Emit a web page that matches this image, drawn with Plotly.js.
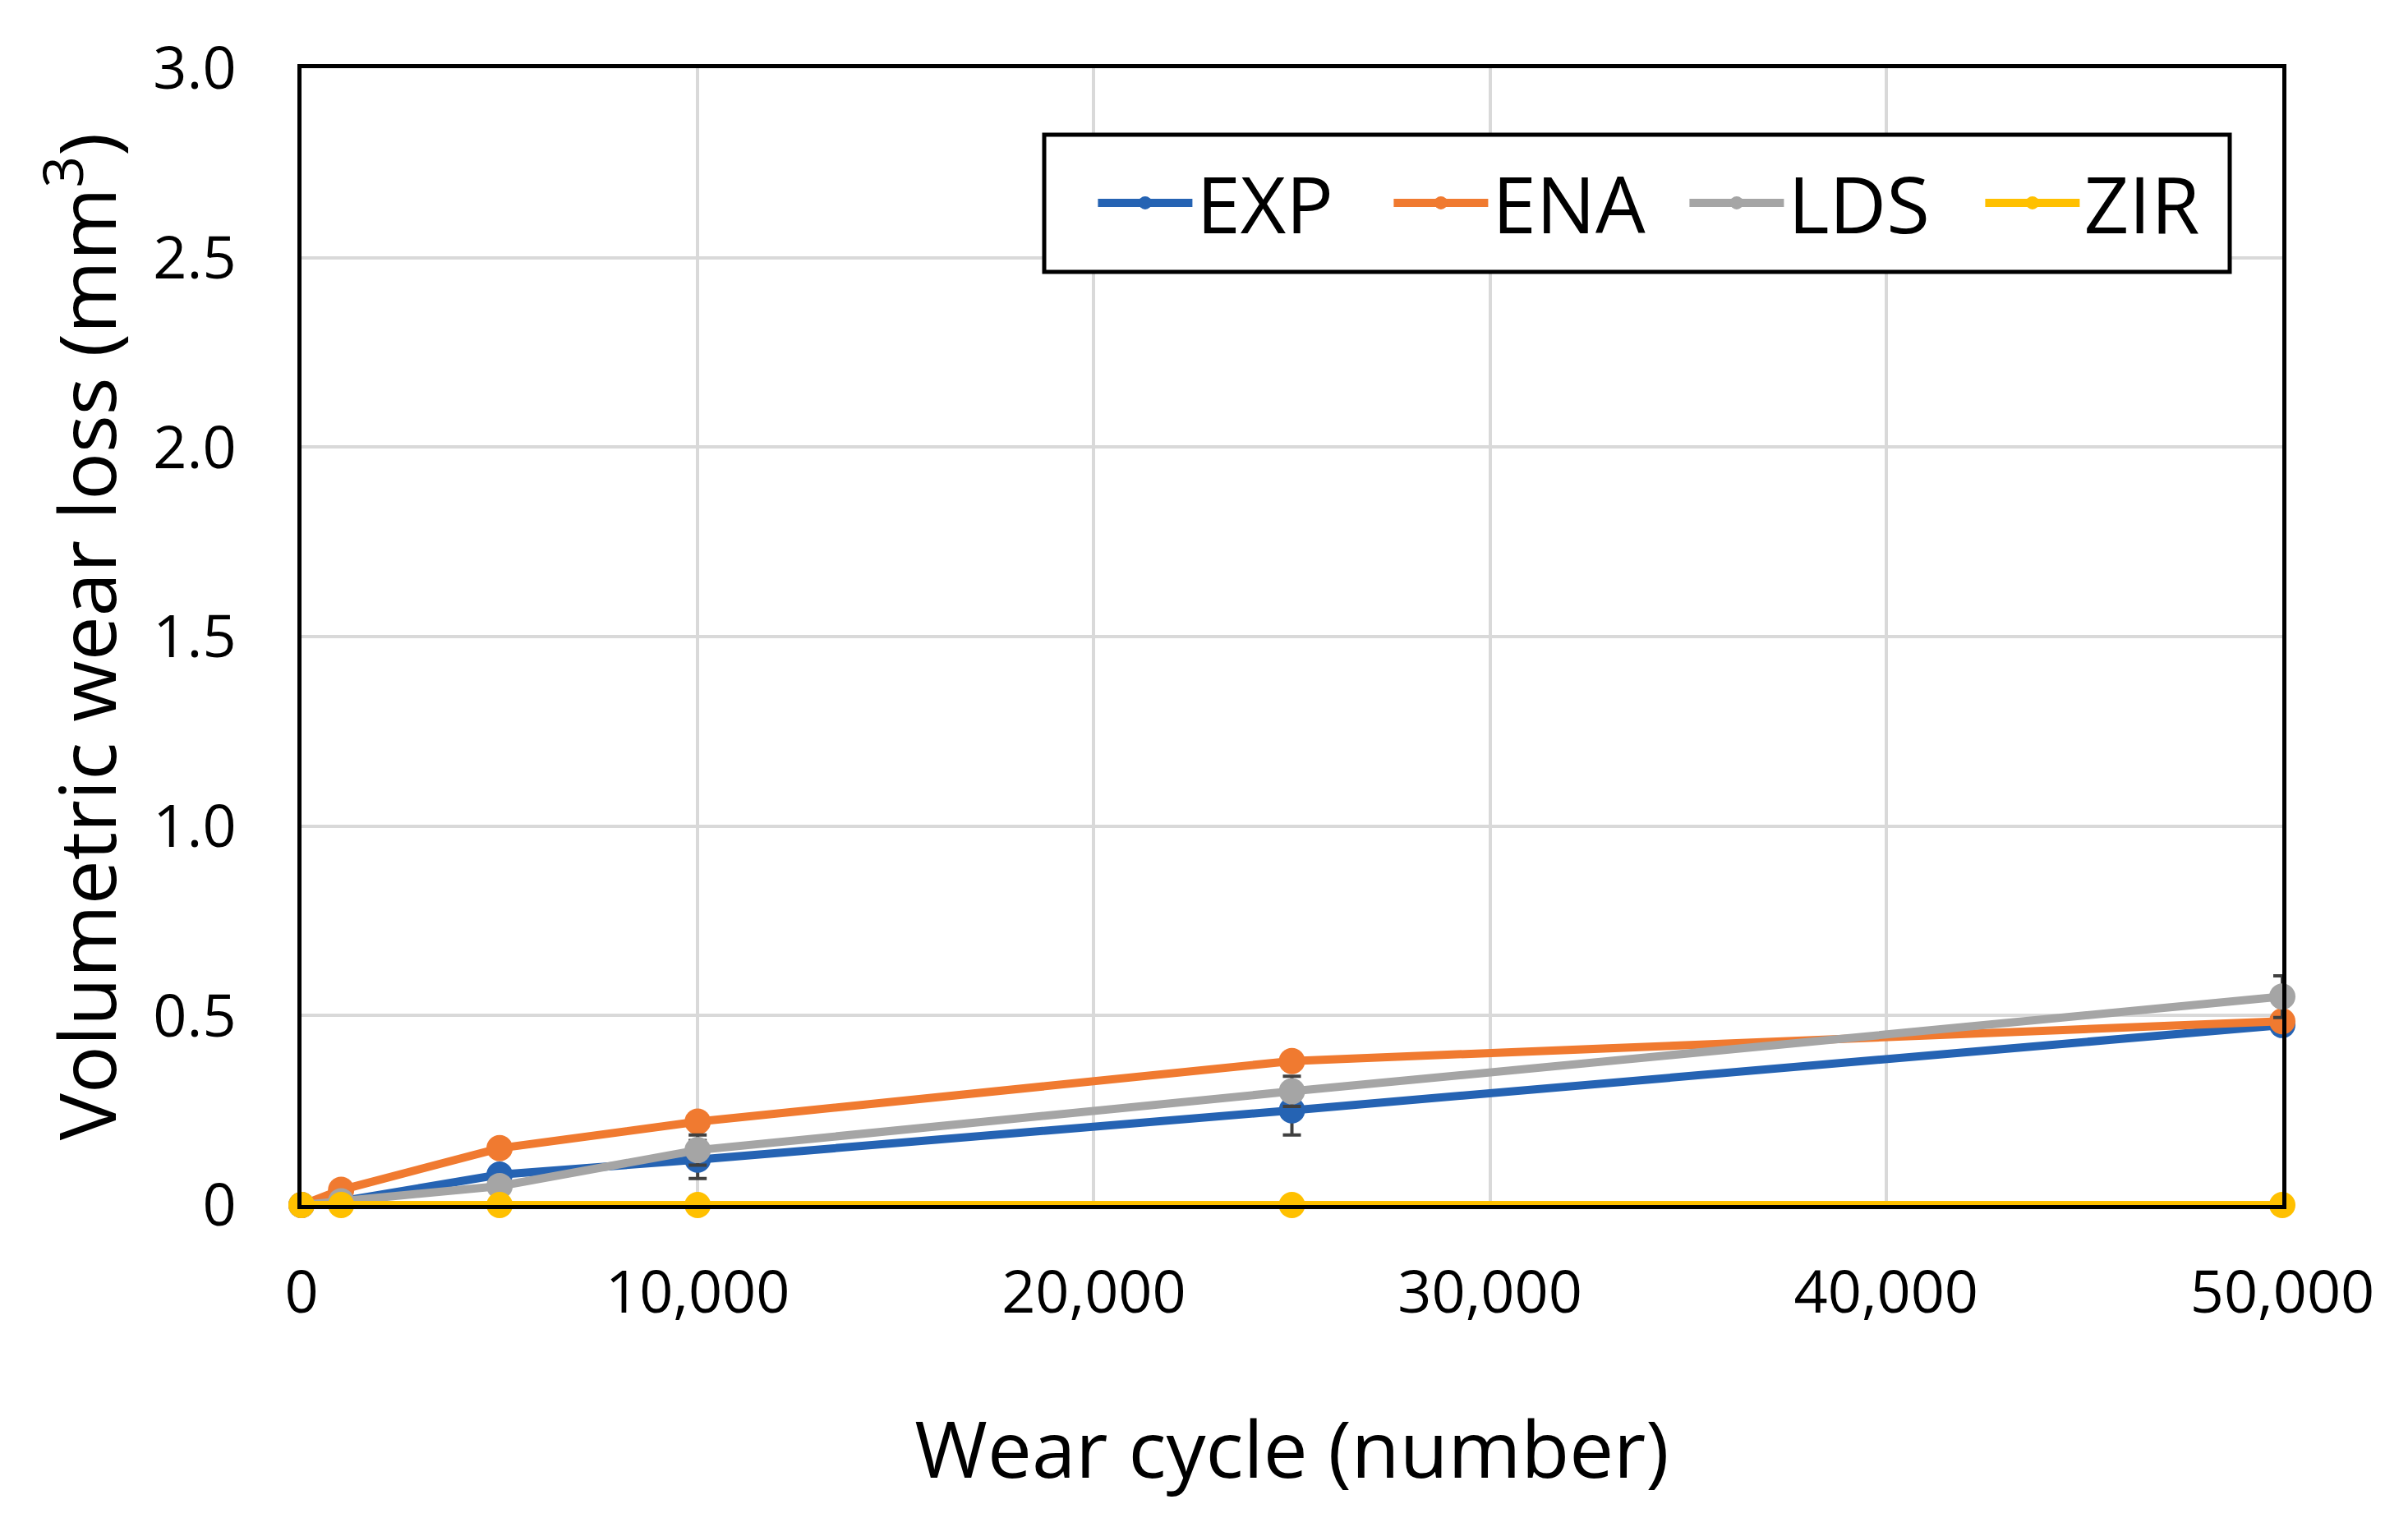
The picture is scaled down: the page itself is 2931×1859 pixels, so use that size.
<!DOCTYPE html>
<html>
<head>
<meta charset="utf-8">
<script src="https://cdn.plot.ly/plotly-3.0.1.min.js"></script>
<style>html,body{margin:0;padding:0;background:#fff;}#chart{width:2931px;height:1859px;}</style>
</head>
<body>
<div id="chart"></div>
<script>
var cycles = [0, 1000, 5000, 10000, 25000, 50000];
var seriesNames = ["EXP", "ENA", "LDS", "ZIR"];
var expLoss = [0, 0.01, 0.08, 0.12, 0.25, 0.475];
var enaLoss = [0, 0.04, 0.15, 0.22, 0.38, 0.485];
var ldsLoss = [0, 0.01, 0.05, 0.145, 0.30, 0.55];
var zirLoss = [0, 0, 0, 0, 0, 0];
var expErr = [0, 0, 0.01, 0.05, 0.065, 0.02];
var enaErr = [0, 0, 0.01, 0.01, 0.01, 0.01];
var ldsErr = [0, 0, 0.01, 0.04, 0.04, 0.055];
var zirErr = [0, 0, 0, 0, 0, 0];
var yTickVals = [0, 0.5, 1.0, 1.5, 2.0, 2.5, 3.0];
var yTickText = ["0", "0.5", "1.0", "1.5", "2.0", "2.5", "3.0"];
var xTickVals = [0, 10000, 20000, 30000, 40000, 50000];
var xTickText = ["0", "10,000", "20,000", "30,000", "40,000", "50,000"];

var colors = ["#2563b3", "#f07a30", "#a5a5a5", "#ffc000"];
var values = [expLoss, enaLoss, ldsLoss, zirLoss];
var errs = [expErr, enaErr, ldsErr, zirErr];

var traces = seriesNames.map(function (name, i) {
  return {
    type: "scatter",
    mode: "lines+markers",
    name: name,
    x: cycles,
    y: values[i],
    line: {color: colors[i], width: 10},
    marker: {color: colors[i], size: 32},
    error_y: {type: "data", array: errs[i], visible: true, color: "#404040", thickness: 4, width: 11},
    cliponaxis: false
  };
});

var font = "'Open Sans', 'Noto Sans', sans-serif";
var layout = {
  width: 2931,
  height: 1859,
  paper_bgcolor: "#ffffff",
  plot_bgcolor: "#ffffff",
  margin: {l: 367, r: 153, t: 83, b: 392},
  font: {family: font, color: "#000000"},
  showlegend: true,
  legend: {
    orientation: "h",
    x: 0.400, y: 0.8815, xanchor: "left", yanchor: "middle",
    bgcolor: "rgba(0,0,0,0)",
    borderwidth: 0,
    font: {family: font, size: 96, color: "#000000"},
    itemwidth: 115,
    entrywidth: 230,
    tracegroupgap: 0
  },
  shapes: [{
    type: "rect", xref: "paper", yref: "paper",
    x0: (1271 - 367) / 2411, x1: (2714 - 367) / 2411,
    y0: (1467 - 331) / 1384, y1: (1467 - 164) / 1384,
    line: {color: "#000000", width: 5},
    fillcolor: "#ffffff",
    layer: "above"
  }],
  xaxis: {
    range: [0, 50000],
    tickvals: xTickVals,
    ticktext: xTickText,
    tickfont: {family: font, size: 72, color: "#000000"},
    ticks: "",
    ticklabelstandoff: 40,
    showgrid: true,
    gridcolor: "#d9d9d9",
    gridwidth: 4,
    zeroline: false,
    showline: true,
    linecolor: "#000000",
    linewidth: 5,
    mirror: true,
    automargin: false,
    title: {text: "Wear cycle (number)", font: {family: font, size: 96, color: "#000000"}, standoff: 115}
  },
  yaxis: {
    range: [0, 3.0],
    tickvals: yTickVals,
    ticktext: yTickText,
    tickfont: {family: font, size: 72, color: "#000000"},
    ticks: "",
    ticklabelstandoff: 60,
    showgrid: true,
    gridcolor: "#d9d9d9",
    gridwidth: 4,
    zeroline: false,
    showline: true,
    linecolor: "#000000",
    linewidth: 5,
    mirror: true,
    automargin: false,
    title: {text: "Volumetric wear loss (mm<sup>3</sup>)", font: {family: font, size: 96, color: "#000000"}, standoff: 14}
  }
};

Plotly.newPlot("chart", traces, layout, {staticPlot: true, displayModeBar: false});
</script>
</body>
</html>
